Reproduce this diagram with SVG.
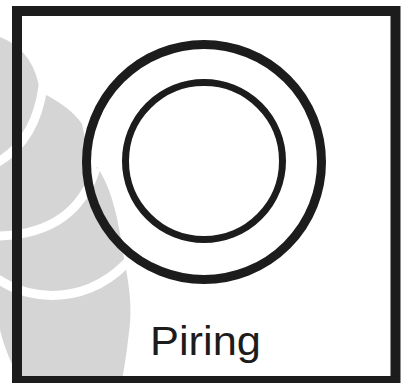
<svg xmlns="http://www.w3.org/2000/svg" width="409" height="383" viewBox="0 0 409 383">
  <style>
    .wm { fill: #d5d5d5; }
    .gap { fill: none; stroke: #ffffff; stroke-width: 9; stroke-linecap: butt; }
    .ink { fill: none; stroke: #1c1c1c; }
    .label { font-family: "Liberation Sans", Arial, sans-serif; font-size: 41px; fill: #1c1c1c; }
  </style>
  <rect width="409" height="383" fill="#ffffff"/>
  <g id="watermark">
    <path class="wm" d="M 0 37 C 18 44, 36 60, 40 92 L 50 97 C 62 104, 74 112, 82 124 L 92 172 L 97 167 C 110 185, 118 215, 124 258 C 130 290, 133 310, 128 340 C 126 360, 123 372, 122 383 L 21 383 C 12 365, 5 350, 0 330 Z"/>
    <path class="gap" d="M 43 86 Q 36 140 -2 162"/>
    <path class="gap" d="M 96 168 Q 76 234 -2 236"/>
    <path class="gap" d="M -2 279 C 30 302, 90 306, 132 257"/>
  </g>
  <g id="frame">
    <rect class="ink" x="17" y="11" width="378.5" height="370" stroke-width="10"/>
  </g>
  <g id="plate">
    <circle class="ink" cx="204" cy="162" r="117.5" stroke-width="9"/>
    <circle class="ink" cx="204" cy="161" r="78.5" stroke-width="7"/>
  </g>
  <g id="label">
    <text class="label" x="150" y="355" textLength="111" lengthAdjust="spacingAndGlyphs">Piring</text>
  </g>
</svg>
